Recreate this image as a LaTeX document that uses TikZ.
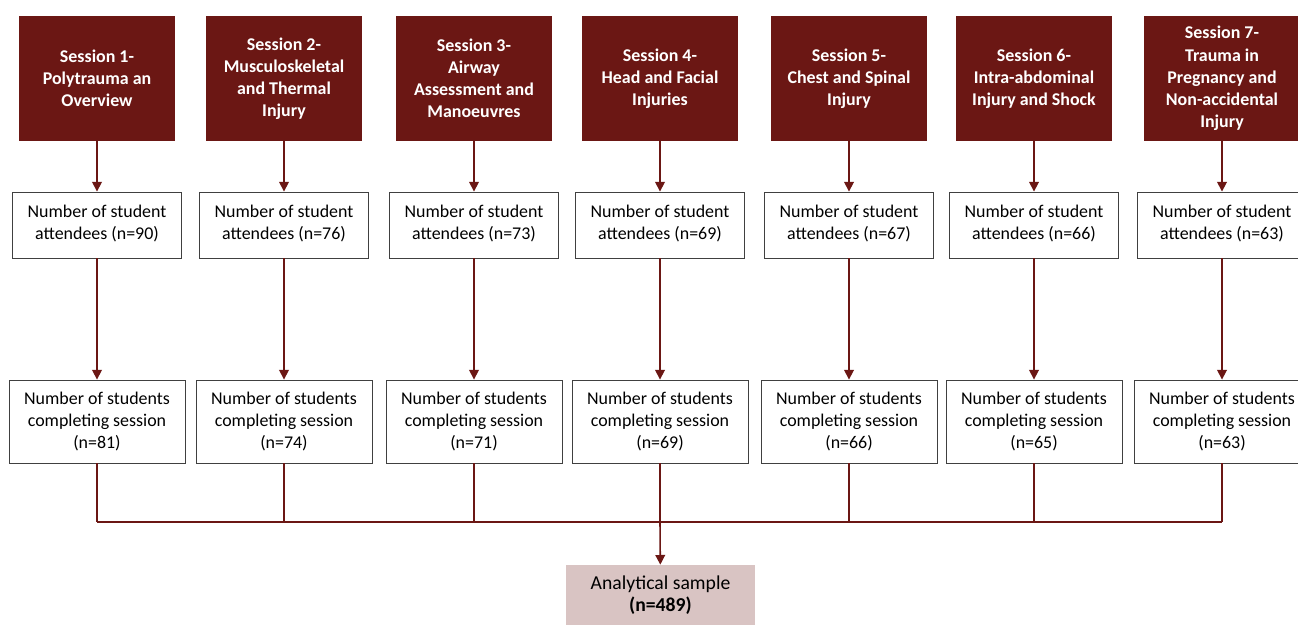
\documentclass[tikz,border=0pt]{standalone}
\usepackage{fontspec}
\setmainfont{Carlito}
\usetikzlibrary{arrows.meta}
\definecolor{maroon}{HTML}{6B1714}
\definecolor{rose}{HTML}{D9C4C3}

\begin{document}
\begin{tikzpicture}
		[x=0.02cm,y=-0.02cm,
		sess/.style={fill=maroon, text=white, font=\fontsize{10.2}{12.6}\selectfont\bfseries,
			minimum width=3.12cm, minimum height=2.5cm, align=center, inner sep=1pt},
		att/.style={draw=black!75, line width=0.5pt, fill=white, font=\fontsize{10.2}{12.4}\selectfont,
			minimum width=3.38cm, minimum height=1.32cm, align=center, inner sep=1pt},
		comp/.style={att, minimum width=3.52cm, minimum height=1.66cm},
		link/.style={draw=maroon, line width=0.75pt},
		arr/.style={link, line width=0.9pt, -{Triangle[width=5.5pt,length=5.5pt]}}]
		\useasboundingbox (0,0) rectangle (1298,625);
		%-----sessions
		\node[sess] (S1) at (97,78.5) {Session 1-\\Polytrauma an\\Overview};
		\node[sess] (S2) at (284,78.5) {Session 2-\\Musculoskeletal\\and Thermal\\Injury};
		\node[sess] (S3) at (474,78.5) {Session 3-\\Airway\\Assessment and\\Manoeuvres};
		\node[sess] (S4) at (660,78.5) {Session 4-\\Head and Facial\\Injuries};
		\node[sess] (S5) at (849,78.5) {Session 5-\\Chest and Spinal\\Injury};
		\node[sess] (S6) at (1034,78.5) {Session 6-\\Intra-abdominal\\Injury and Shock};
		\node[sess] (S7) at (1222,78.5) {Session 7-\\Trauma in\\Pregnancy and\\Non-accidental\\Injury};
		%-----attendees
		\node[att] (A1) at (97,225) {Number of student\\attendees (n=90)\\[-9.5pt]};
		\node[att] (A2) at (284,225) {Number of student\\attendees (n=76)\\[-9.5pt]};
		\node[att] (A3) at (474,225) {Number of student\\attendees (n=73)\\[-9.5pt]};
		\node[att] (A4) at (660,225) {Number of student\\attendees (n=69)\\[-9.5pt]};
		\node[att] (A5) at (849,225) {Number of student\\attendees (n=67)\\[-9.5pt]};
		\node[att] (A6) at (1034,225) {Number of student\\attendees (n=66)\\[-9.5pt]};
		\node[att] (A7) at (1222,225) {Number of student\\attendees (n=63)\\[-9.5pt]};
		%-----completing
		\node[comp] (C1) at (97,421.5) {Number of students\\completing session\\(n=81)};
		\node[comp] (C2) at (284,421.5) {Number of students\\completing session\\(n=74)};
		\node[comp] (C3) at (474,421.5) {Number of students\\completing session\\(n=71)};
		\node[comp] (C4) at (660,421.5) {Number of students\\completing session\\(n=69)};
		\node[comp] (C5) at (849,421.5) {Number of students\\completing session\\(n=66)};
		\node[comp] (C6) at (1034,421.5) {Number of students\\completing session\\(n=65)};
		\node[comp] (C7) at (1222,421.5) {Number of students\\completing session\\(n=63)};
		%-----sample
		\node[fill=rose, font=\fontsize{11.2}{12.6}\selectfont, minimum width=3.78cm, minimum height=1.2cm,
			align=center, inner sep=1pt] (AS) at (660.5,595) {Analytical sample\\\textbf{(n=489)}};
		\coordinate (J) at (660,522);
		
		\foreach \i in {1,...,7} {
		\draw[arr] (S\i) -- (A\i);
		\draw[arr] (A\i) -- (C\i);
		\draw[link] (C\i.south) -- (C\i.south |- J);
		}
		\draw[link] (C1.south |- J) -- (C7.south |- J);
		\draw[arr] (J) -- (AS);
		
\end{tikzpicture}
\end{document}
